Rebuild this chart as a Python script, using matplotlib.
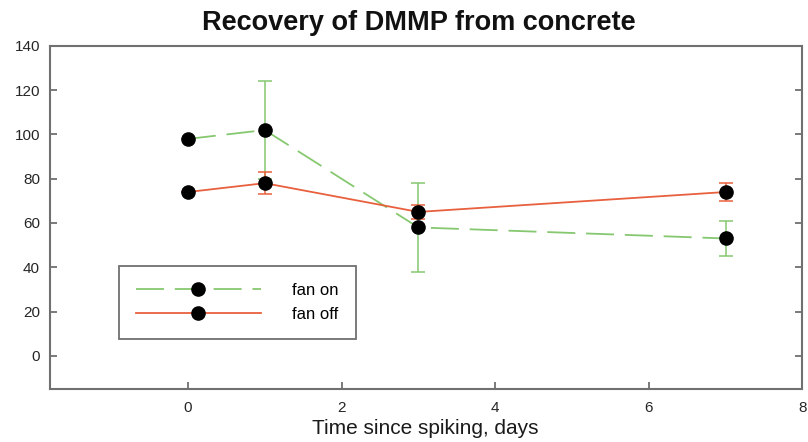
import matplotlib
matplotlib.use("Agg")
import matplotlib.pyplot as plt

plt.rcParams['font.family'] = ['Liberation Sans', 'DejaVu Sans']

days = [0, 1, 3, 7]
fan_on = [98, 102, 58, 53]
fan_on_err = [0, 22, 20, 8]
fan_off = [74, 78, 65, 74]
fan_off_err = [0, 5, 3, 4]

green = '#86c870'
red = '#e8603e'

fig = plt.figure(figsize=(8.08, 4.42), dpi=100)
ax = fig.add_axes([0.0615, 0.12, 0.9315, 0.776])

# error bars first, then lines and markers on top
ax.errorbar(days, fan_on, yerr=fan_on_err, fmt='none', ecolor=green,
            elinewidth=1.1, capsize=5, capthick=1.1, zorder=2)
ax.errorbar(days, fan_off, yerr=fan_off_err, fmt='none', ecolor=red,
            elinewidth=1.1, capsize=5, capthick=1.1, zorder=2)
ax.plot(days, fan_on, color=green, lw=1.3, dashes=(15.5, 6), marker='o',
        ms=9.5, mfc='black', mec='black', label='fan on', zorder=3)
ax.plot(days, fan_off, color=red, lw=1.3, marker='o',
        ms=9.5, mfc='black', mec='black', label='fan off', zorder=3)

ax.set_xlim(-1.8, 8)
ax.set_ylim(-15, 140)
ax.set_xticks([0, 2, 4, 6, 8])
ax.set_yticks(range(0, 141, 20))

for s in ax.spines.values():
    s.set_color('#707070')
    s.set_linewidth(1.5)
ax.tick_params(direction='in', length=5, width=1.3, color='#707070',
               labelsize=11, labelcolor='#262626', right=True)
ax.tick_params(axis='x', pad=9)
ax.tick_params(axis='y', pad=7)

fig.text(0.526, 1 - 434/442, 'Time since spiking, days', fontsize=15,
         ha='center', va='baseline', color='#1a1a1a')
fig.text(0.5186, 1 - 30/442, 'Recovery of DMMP from concrete', fontsize=19.5,
         fontweight='bold', ha='center', va='baseline', color='#111111')

leg = ax.legend(loc='upper left', bbox_to_anchor=(119/808, 1 - 266/442),
                bbox_transform=fig.transFigure, fontsize=12,
                handlelength=7.5, handletextpad=1.9, borderpad=1.0,
                borderaxespad=0, labelspacing=0.55, fancybox=False,
                framealpha=1)
leg.get_frame().set_edgecolor('#707070')
leg.get_frame().set_linewidth(1.3)

fig.savefig('out.png', dpi=100)
